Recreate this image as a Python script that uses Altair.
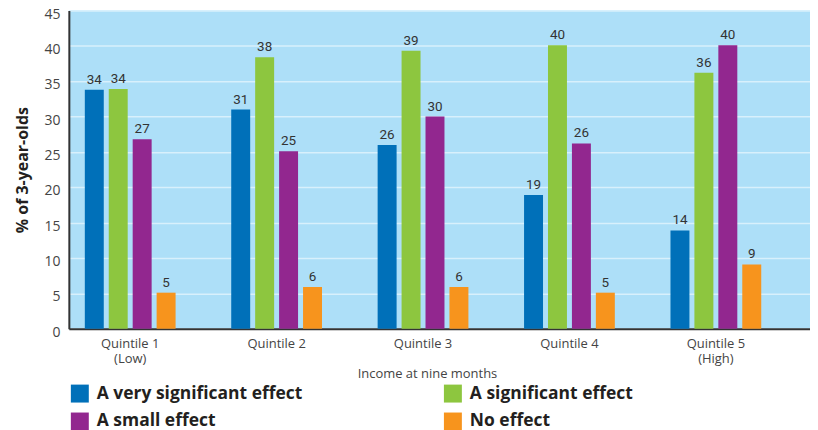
import altair as alt
import pandas as pd

categories = ["Quintile 1 (Low)", "Quintile 2", "Quintile 3", "Quintile 4", "Quintile 5 (High)"]
series = ["A very significant effect", "A significant effect", "A small effect", "No effect"]
very_significant = [33.8, 31.0, 26.0, 18.9, 13.9]
significant = [33.9, 38.4, 39.3, 40.1, 36.2]
small = [26.8, 25.1, 30.0, 26.2, 40.1]
no_effect = [5.1, 5.9, 5.9, 5.1, 9.1]
y_ticks = [0, 5, 10, 15, 20, 25, 30, 35, 40, 45]
colors = ["#0070b9", "#8dc63f", "#92278f", "#f7941d"]

rows = []
for s, vals in zip(series, [very_significant, significant, small, no_effect]):
    for c, v in zip(categories, vals):
        rows.append({"cat": c, "series": s, "value": v})
df = pd.DataFrame(rows)

x_enc = alt.X(
    "cat:N",
    sort=categories,
    scale=alt.Scale(paddingInner=0.162, paddingOuter=0.112, align=0),
    axis=alt.Axis(
        title="Income at nine months",
        labelAngle=0,
        labelExpr="split(replace(datum.label, ' (', '|('), '|')",
        labelFont="Open Sans",
        labelFontSize=13,
        labelColor="#444444",
        labelPadding=9,
        labelLineHeight=15,
        ticks=False,
        domainColor="#333333",
        domainWidth=2,
        titleFont="Open Sans",
        titleFontSize=13,
        titleFontWeight="normal",
        titleColor="#444444",
        titlePadding=2,
        titleX=359,
        grid=False,
    ),
)
xoff = alt.XOffset(
    "series:N",
    sort=series,
    scale=alt.Scale(paddingInner=0.208, paddingOuter=0.667),
)
y_enc = alt.Y(
    "value:Q",
    scale=alt.Scale(domain=[0, 45], nice=False),
    axis=alt.Axis(
        title="% of 3-year-olds",
        values=y_ticks,
        labelOverlap=False,
        labelFont="Open Sans",
        labelFontSize=14,
        labelColor="#444444",
        labelPadding=9,
        labelOffset=3.5,
        ticks=False,
        domainColor="#333333",
        domainWidth=2,
        gridColor="#d8f0fc",
        gridWidth=1.5,
        titleFont="Open Sans",
        titleFontSize=16,
        titleFontWeight="bold",
        titleColor="#231f20",
        titlePadding=13,
    ),
)

bars = alt.Chart(df).mark_bar().encode(
    x=x_enc,
    xOffset=xoff,
    y=y_enc,
    color=alt.Color(
        "series:N",
        sort=series,
        scale=alt.Scale(domain=series, range=colors),
        legend=alt.Legend(
            title=None,
            orient="none",
            legendX=2,
            legendY=375,
            direction="horizontal",
            columns=2,
            columnPadding=141,
            rowPadding=10,
            symbolType="square",
            symbolSize=324,
            symbolStrokeWidth=0,
            labelFont="Open Sans",
            labelFontSize=17.5,
            labelFontWeight="bold",
            labelColor="#231f20",
            labelOffset=8,
            labelLimit=400,
            padding=0,
        ),
    ),
)

labels = alt.Chart(df).mark_text(
    font="Roboto",
    fontSize=13.5,
    color="#333333",
    baseline="alphabetic",
    dy=-6,
).encode(
    x=x_enc,
    xOffset=xoff,
    y=y_enc,
    text=alt.Text("value:Q", format=".0f"),
)

chart = (
    (bars + labels)
    .properties(
        width=743,
        height=319,
        autosize=alt.AutoSizeParams(type="none"),
        padding={"left": 61, "top": 2, "right": 0, "bottom": 112},
        background="white",
    )
    .configure_view(fill="#addff8", stroke=None)
)

chart.save("out.html", embed_options={"renderer": "svg", "actions": False})
